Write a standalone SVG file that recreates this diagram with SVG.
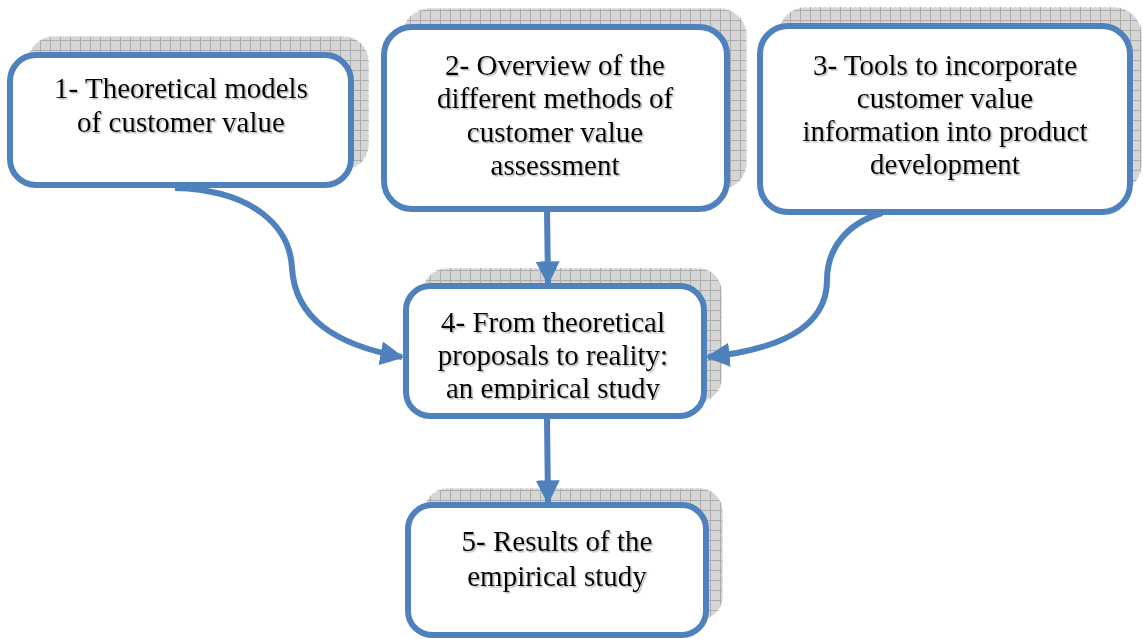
<svg xmlns="http://www.w3.org/2000/svg" width="1143" height="639" viewBox="0 0 1143 639">
<defs>
<pattern id="grid" width="10" height="10" patternUnits="userSpaceOnUse">
<rect width="10" height="10" fill="#d6d6d6"/>
<path d="M0 0.5H10M0.5 0V10" stroke="#acacac" stroke-width="1"/>
</pattern>
<filter id="ts" x="-5%" y="-20%" width="110%" height="140%">
<feDropShadow dx="1.5" dy="1.5" stdDeviation="0.6" flood-color="#888" flood-opacity="0.6"/>
</filter>
<marker id="ah" viewBox="0 0 10 10" refX="9" refY="5" markerWidth="4" markerHeight="4" orient="auto" markerUnits="strokeWidth">
<path d="M0,0 L10,5 L0,10 Z" fill="#4F81BD"/>
</marker>
<clipPath id="c4"><rect x="405" y="283" width="300" height="117"/></clipPath>
</defs>
<style>
.sh{fill:url(#grid);stroke:#ffffff;stroke-width:1;stroke-dasharray:3 2}
.bx{fill:#ffffff;stroke:#4F81BD;stroke-width:6}
.t{font-family:"Liberation Serif","Times New Roman",serif;font-size:29px;fill:#000;text-anchor:middle;filter:url(#ts)}
.cn{fill:none;stroke:#4F81BD;stroke-width:6}
</style>
<rect width="1143" height="639" fill="#ffffff"/>
<g id="node1">
<rect class="sh" x="28" y="36" width="341" height="134" rx="26"/>
<rect class="bx" x="10" y="55" width="341" height="130" rx="26"/>
<text class="t" x="181" y="98">1- Theoretical models</text>
<text class="t" x="181" y="132">of customer value</text>
</g>
<g id="node2">
<rect class="sh" x="402" y="8" width="345" height="182" rx="28"/>
<rect class="bx" x="384" y="27" width="343" height="182" rx="28"/>
<text class="t" x="555" y="75">2- Overview of the</text>
<text class="t" x="555" y="108">different methods of</text>
<text class="t" x="555" y="142">customer value</text>
<text class="t" x="555" y="175">assessment</text>
</g>
<g id="node3">
<rect class="sh" x="778" y="7" width="364" height="185" rx="28"/>
<rect class="bx" x="760" y="26" width="370" height="186" rx="28"/>
<text class="t" x="945" y="75">3- Tools to incorporate</text>
<text class="t" x="945" y="108">customer value</text>
<text class="t" x="945" y="141">information into product</text>
<text class="t" x="945" y="174">development</text>
</g>
<g id="node4">
<rect class="sh" x="423" y="268" width="299" height="134" rx="24"/>
<rect class="bx" x="406" y="286" width="298" height="130" rx="24"/>
<g clip-path="url(#c4)">
<text class="t" x="553" y="332">4- From theoretical</text>
<text class="t" x="553" y="365">proposals to reality:</text>
<text class="t" x="553" y="398">an empirical study</text>
</g>
</g>
<g id="node5">
<rect class="sh" x="424" y="488" width="299" height="132" rx="24"/>
<rect class="bx" x="408" y="505" width="298" height="130" rx="24"/>
<text class="t" x="557" y="551">5- Results of the</text>
<text class="t" x="557" y="586">empirical study</text>
</g>
<g id="connectors">
<path class="cn" marker-end="url(#ah)" d="M175,188 C255,190 290,228 292,268 C295,318 335,345 402,357"/>
<path class="cn" marker-end="url(#ah)" d="M547,210 L548,283"/>
<path class="cn" marker-end="url(#ah)" d="M882,213 C845,224 827,250 827,280 C827,330 775,350 708,357"/>
<path class="cn" marker-end="url(#ah)" d="M547,419 L548,502"/>
</g>
</svg>
